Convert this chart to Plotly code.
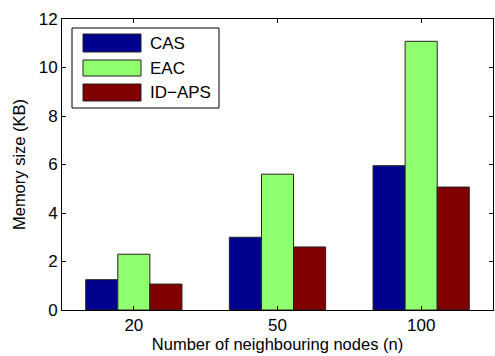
import plotly.graph_objects as go

categories = ["20", "50", "100"]
series_names = ["CAS", "EAC", "ID\u2212APS"]
cas = [1.25, 3.0, 5.95]
eac = [2.3, 5.6, 11.08]
idaps = [1.07, 2.6, 5.07]
colors = ["#00008F", "#8FFF6F", "#800000"]
y_ticks = [0, 2, 4, 6, 8, 10, 12]

FONT = "Liberation Sans, Arial, sans-serif"
W, H = 495, 356
ML, MR, MT, MB = 62, 2, 19, 46

fig = go.Figure()
xpos = list(range(1, len(categories) + 1))
for name, vals, col in zip(series_names, [cas, eac, idaps], colors):
    fig.add_trace(go.Bar(
        x=xpos, y=vals, name=name, marker=dict(color=col, line=dict(color="#222222", width=1)),
        showlegend=False,
    ))

fig.update_layout(
    width=W, height=H,
    margin=dict(l=ML, r=MR, t=MT, b=MB, pad=0),
    paper_bgcolor="white", plot_bgcolor="white",
    barmode="group", bargap=0.33, bargroupgap=0,
    font=dict(family=FONT, size=17, color="black"),
    xaxis=dict(
        range=[0.5, 3.5], tickmode="array", tickvals=xpos, ticktext=categories,
        ticks="inside", ticklen=4, tickcolor="black", showline=True, linecolor="black",
        linewidth=1, mirror="ticks", showgrid=False, zeroline=False,
        tickfont=dict(size=17),
        title=dict(text="Number of neighbouring nodes (n)", standoff=2, font=dict(size=16.5)),
    ),
    yaxis=dict(
        range=[0, 12], tickmode="array", tickvals=y_ticks,
        ticks="inside", ticklen=4, tickcolor="black", showline=True, linecolor="black",
        linewidth=1, mirror="ticks", showgrid=False, zeroline=False,
        tickfont=dict(size=17),
        title=dict(text="Memory size (KB)", standoff=8, font=dict(size=16.5)),
    ),
)

# manual MATLAB-style legend
pw = W - ML - MR
ph = H - MT - MB
def px(x):
    return (x - ML) / pw
def py(y):
    return 1 - (y - MT) / ph

fig.add_shape(type="rect", xref="paper", yref="paper",
              x0=px(72), x1=px(219), y0=py(108), y1=py(28),
              line=dict(color="black", width=1), fillcolor="white")
rows = [(34, 52), (60, 76), (84, 101)]
for name, col, (t, b) in zip(series_names, colors, rows):
    fig.add_shape(type="rect", xref="paper", yref="paper",
                  x0=px(83), x1=px(141), y0=py(b), y1=py(t),
                  line=dict(color="#222222", width=1), fillcolor=col)
    fig.add_annotation(xref="paper", yref="paper", x=px(148), y=py((t + b) / 2),
                       text=name, showarrow=False, xanchor="left", yanchor="middle",
                       font=dict(size=17, family=FONT, color="black"))

fig.write_html("out.html")
